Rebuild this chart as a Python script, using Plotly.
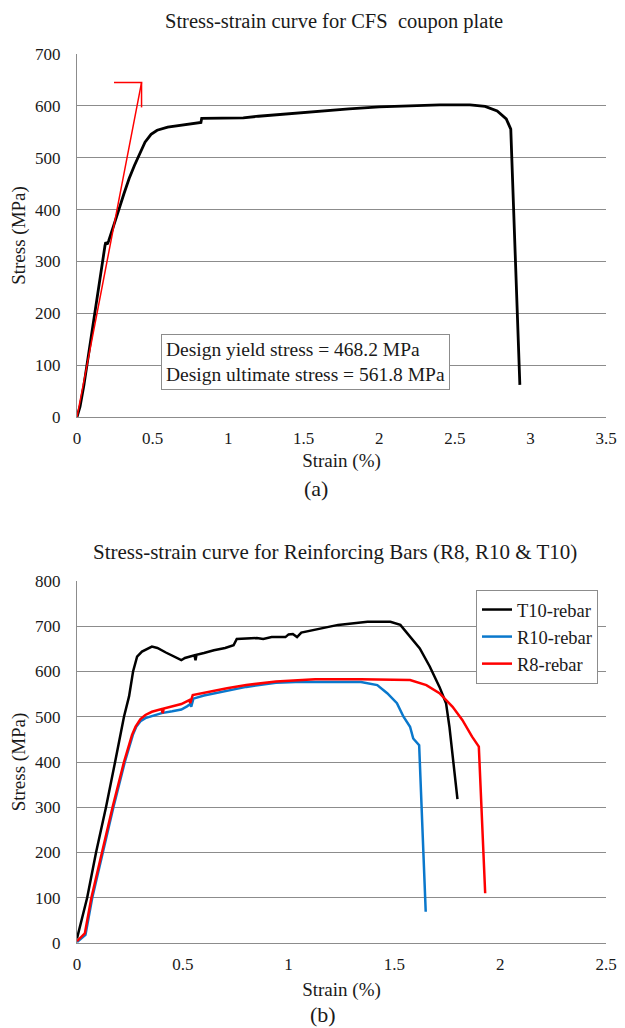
import plotly.graph_objects as go

# ---------------- Data: (a) CFS coupon plate ----------------
cfs_strain = [0, 0.02, 0.045, 0.07, 0.095, 0.118, 0.14, 0.163, 0.185, 0.19, 0.2, 0.21,
              0.24, 0.277, 0.31, 0.345, 0.38, 0.416, 0.45, 0.49, 0.53, 0.6, 0.7, 0.8,
              0.82, 0.825, 0.9, 1.0, 1.1, 1.2, 1.4, 1.6, 1.8, 2.0, 2.2, 2.4, 2.6, 2.7,
              2.78, 2.84, 2.87, 2.93]
cfs_stress = [0, 20, 60, 110, 160, 205, 250, 295, 330, 337, 333, 340,
              365, 400, 430, 460, 485, 510, 530, 545, 553, 559, 563, 567,
              568, 576, 576, 577, 577, 580, 585, 590, 594, 598, 600, 602, 602, 599,
              590, 575, 555, 62]

# design (offset) line
design_strain = [0, 0.427, 0.245, None, 0.427, 0.427]
design_stress = [0, 645, 645, None, 645, 597]

# ---------------- Data: (b) Reinforcing bars ----------------
t10_strain = [0, 0.048, 0.09, 0.137, 0.18, 0.222, 0.246, 0.265, 0.284, 0.307, 0.354, 0.38,
              0.42, 0.46, 0.493, 0.51, 0.53, 0.555, 0.56, 0.565, 0.6, 0.647, 0.7, 0.74,
              0.755, 0.8, 0.85, 0.88, 0.92, 0.985, 1.0, 1.02, 1.04, 1.06, 1.12, 1.234,
              1.373, 1.481, 1.528, 1.574, 1.62, 1.667, 1.713, 1.744, 1.76, 1.798]
t10_stress = [10, 100, 200, 300, 400, 500, 545, 600, 633, 644, 655, 652,
              642, 632, 625, 630, 632, 636, 625, 637, 641, 647, 652, 658,
              672, 673, 674, 672, 676, 676, 682, 683, 676, 686, 692, 703,
              710, 710, 703, 677, 651, 611, 566, 530, 478, 318]

r10_strain = [0, 0.04, 0.072, 0.122, 0.172, 0.226, 0.264, 0.28, 0.3, 0.323, 0.354, 0.4,
              0.45, 0.493, 0.52, 0.535, 0.54, 0.55, 0.6, 0.71, 0.8, 0.94, 1.033, 1.342,
              1.419, 1.466, 1.512, 1.543, 1.574, 1.589, 1.617, 1.648]
r10_stress = [2, 18, 100, 200, 300, 400, 460, 478, 490, 497, 502, 508,
              512, 516, 523, 528, 522, 540, 547, 557, 566, 575, 577, 577,
              570, 552, 530, 500, 478, 452, 437, 69]

r8_strain = [0, 0.037, 0.068, 0.118, 0.168, 0.222, 0.26, 0.277, 0.3, 0.323, 0.354, 0.4,
             0.405, 0.41, 0.45, 0.493, 0.531, 0.535, 0.547, 0.6, 0.709, 0.8, 0.94, 1.126,
             1.342, 1.574, 1.651, 1.713, 1.775, 1.821, 1.867, 1.899, 1.929]
r8_stress = [4, 21, 100, 200, 300, 400, 460, 478, 495, 504, 511, 517,
             508, 518, 522, 528, 537, 530, 548, 553, 563, 570, 578, 583,
             583, 581, 570, 552, 522, 493, 456, 434, 110]

# ---------------- Figure ----------------
FONT = "Liberation Serif"
TXT = "#1a1a1a"
GRID = "#8c8c8c"

fig = go.Figure()

fig.add_trace(go.Scatter(x=cfs_strain, y=cfs_stress, mode="lines",
                         line=dict(color="black", width=2.8), showlegend=False,
                         xaxis="x", yaxis="y"))
fig.add_trace(go.Scatter(x=design_strain, y=design_stress, mode="lines",
                         line=dict(color="#ff0000", width=1.5), showlegend=False,
                         connectgaps=False, xaxis="x", yaxis="y"))

fig.add_trace(go.Scatter(x=t10_strain, y=t10_stress, mode="lines", name="T10-rebar",
                         line=dict(color="black", width=2.5), xaxis="x2", yaxis="y2"))
fig.add_trace(go.Scatter(x=r10_strain, y=r10_stress, mode="lines", name="R10-rebar",
                         line=dict(color="#0a78cc", width=2.5), xaxis="x2", yaxis="y2"))
fig.add_trace(go.Scatter(x=r8_strain, y=r8_stress, mode="lines", name="R8-rebar",
                         line=dict(color="#ff0000", width=2.5), xaxis="x2", yaxis="y2"))

# page body adds an 8px offset, so the figure is 8px smaller than the window
OFF = 8
W, H = 625 - OFF, 1028 - OFF

def px_x(p):
    return (p - OFF) / W

def px_y(p):
    return 1 - (p - OFF) / H

axis_common = dict(zeroline=False, ticks="", automargin=False,
                   showline=True, linecolor=GRID, linewidth=1,
                   ticklabeloverflow="allow",
                   tickfont=dict(family=FONT, size=17, color=TXT))

def title(text, standoff):
    return dict(text=text, standoff=standoff, font=dict(family=FONT, size=19, color=TXT))

def label(text, x, y, size, **kw):
    return dict(text=text, x=px_x(x), y=px_y(y), xref="paper", yref="paper",
                xanchor="center", yanchor="middle", showarrow=False,
                font=dict(family=FONT, size=size, color=TXT), **kw)

fig.update_layout(
    width=W, height=H,
    margin=dict(l=0, r=0, t=0, b=0, autoexpand=False),
    paper_bgcolor="white", plot_bgcolor="white",
    font=dict(family=FONT, color=TXT),
    xaxis=dict(domain=[px_x(77), px_x(606)], range=[0, 3.5], dtick=0.5,
               anchor="y", showgrid=False, ticklabelstandoff=6,
               title=title("Strain (%)", 6), **axis_common),
    yaxis=dict(domain=[px_y(417), px_y(54)], range=[0, 700], dtick=100,
               anchor="x", showgrid=True, gridcolor=GRID, gridwidth=1,
               ticklabelstandoff=12, title=title("Stress (MPa)", 4), **axis_common),
    xaxis2=dict(domain=[px_x(77), px_x(606)], range=[0, 2.5], dtick=0.5,
                anchor="y2", showgrid=False, ticklabelstandoff=6,
                title=title("Strain (%)", 9), **axis_common),
    yaxis2=dict(domain=[px_y(943), px_y(581)], range=[0, 800], dtick=100,
                anchor="x2", showgrid=True, gridcolor=GRID, gridwidth=1,
                ticklabelstandoff=12, title=title("Stress (MPa)", 10), **axis_common),
    legend=dict(x=px_x(476), y=px_y(590), xanchor="left", yanchor="top",
                bgcolor="white", bordercolor=GRID, borderwidth=1,
                font=dict(family=FONT, size=18.5, color=TXT),
                itemwidth=30, tracegroupgap=0),
    annotations=[
        label("Stress-strain curve for CFS  coupon plate", 334, 21.5, 20.5),
        label("(a)", 316, 488, 22),
        label("Stress-strain curve for Reinforcing Bars (R8, R10 &amp; T10)", 335, 552, 21),
        label("(b)", 323, 1014, 22),
        label("Design yield stress = 468.2 MPa<br>Design ultimate stress = 561.8 MPa",
              305, 361.5, 19.5, align="left", bgcolor="white", bordercolor=GRID,
              borderwidth=1, borderpad=4),
    ],
)

fig.write_html("out.html")
